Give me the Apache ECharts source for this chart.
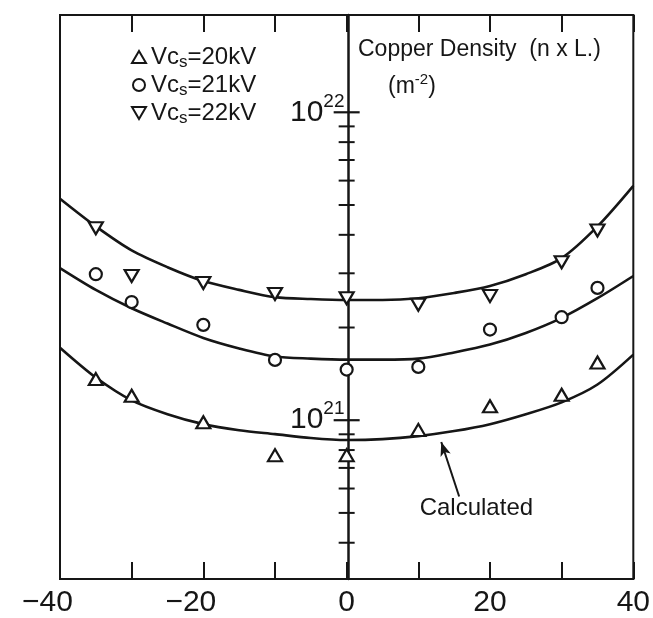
<!DOCTYPE html>
<html>
<head>
<meta charset="utf-8">
<script src="https://cdn.jsdelivr.net/npm/echarts@6/dist/echarts.min.js"></script>
<style>
  html, body { margin: 0; padding: 0; background: #ffffff; }
  #chart { width: 653px; height: 618px; }
</style>
</head>
<body>
<div id="chart"></div>
<script>
// Axial position (mm) of the measured points
const positions = [-35, -30, -20, -10, 0, 10, 20, 30, 35];

// Measured copper density n x L (m^-2)
const density20kV = [1.36e21, 1.20e21, 0.985e21, 0.77e21, 0.77e21, 0.93e21, 1.11e21, 1.21e21, 1.54e21];
const density21kV = [2.98e21, 2.42e21, 2.04e21, 1.57e21, 1.46e21, 1.49e21, 1.97e21, 2.16e21, 2.69e21];
const density22kV = [4.20e21, 2.94e21, 2.79e21, 2.57e21, 2.49e21, 2.37e21, 2.53e21, 3.26e21, 4.13e21];

// Calculated profiles, read every 5 mm
const calcPositions = [-40, -35, -30, -25, -20, -15, -10, -5, 0, 5, 10, 15, 20, 25, 30, 35, 40];
const calc20kV = [1.72e21, 1.376e21, 1.16e21, 1.046e21, 0.971e21, 0.928e21, 0.901e21, 0.875e21, 0.862e21,
                  0.868e21, 0.888e21, 0.922e21, 0.971e21, 1.046e21, 1.143e21, 1.306e21, 1.633e21];
const calc21kV = [3.12e21, 2.65e21, 2.31e21, 2.06e21, 1.85e21, 1.71e21, 1.61e21, 1.585e21, 1.573e21,
                  1.573e21, 1.585e21, 1.66e21, 1.76e21, 1.92e21, 2.15e21, 2.49e21, 2.94e21];
const calc22kV = [5.24e21, 4.26e21, 3.56e21, 3.14e21, 2.83e21, 2.65e21, 2.51e21, 2.475e21, 2.457e21,
                  2.457e21, 2.49e21, 2.59e21, 2.73e21, 2.98e21, 3.36e21, 4.26e21, 5.77e21];

// Tick marks on the central log axis
const majorTicks = [1e21, 1e22];
const minorTicks = [4e20, 5e20, 6e20, 7e20, 8e20, 9e20, 2e21, 3e21, 4e21, 5e21, 6e21, 7e21, 8e21, 9e21];

// Arrow pointing to the calculated curve, and its caption
const arrowFrom = [15.7, 5.65e20];
const arrowTo = [13.2, 8.5e20];
const captionAt = [18.1, 5.16e20];
const captionText = 'Calculated';

const seriesNames = ['Vcs=20kV', 'Vcs=21kV', 'Vcs=22kV'];

const INK = '#161616';
const FONT = 'Liberation Sans';

const GRID = { left: 60, right: 16, top: 15, bottom: 35 };
const PLOT_W = 653 - GRID.left - GRID.right;

const zip = (xs, ys) => xs.map((x, i) => [x, ys[i]]);

const chart = echarts.init(document.getElementById('chart'), null, { renderer: 'canvas' });

const markerStyle = { color: '#ffffff', borderColor: INK, borderWidth: 2.2, opacity: 1 };

const curve = (data) => ({
  type: 'line',
  data: zip(calcPositions, data),
  smooth: 0.3,
  showSymbol: false,
  silent: true,
  lineStyle: { color: INK, width: 2.6 },
  z: 3
});

const isPow10 = (v) => Math.abs(Math.log10(v) - Math.round(Math.log10(v))) < 1e-6;

chart.setOption({
  animation: false,
  backgroundColor: '#ffffff',
  textStyle: { fontFamily: FONT },
  grid: Object.assign({
    show: true, borderColor: INK, borderWidth: 2, backgroundColor: 'transparent'
  }, GRID),
  title: [
    {
      text: 'Copper Density  (n x L.)',
      left: 358, top: 38, padding: 0,
      textStyle: { fontFamily: FONT, fontSize: 23, fontWeight: 'normal', color: INK }
    },
    {
      text: '(m{sup|-2})',
      left: 388, top: 72, padding: 0,
      textStyle: {
        fontFamily: FONT, fontSize: 23, fontWeight: 'normal', color: INK,
        rich: { sup: { fontFamily: FONT, fontSize: 15, color: INK, padding: [0, 0, 14, 0] } }
      }
    }
  ],
  legend: {
    data: [
      { name: seriesNames[0], icon: 'triangle' },
      { name: seriesNames[1], icon: 'circle' },
      { name: seriesNames[2], icon: 'path://M0,0 L14,0 L7,12 Z' }
    ],
    orient: 'vertical',
    left: 131, top: 43,
    itemWidth: 14, itemHeight: 12,
    itemGap: 0,
    padding: 0,
    selectedMode: false,
    formatter: (name) => 'Vc{sub|s}=' + name.split('=')[1],
    textStyle: {
      fontFamily: FONT, fontSize: 24, color: INK, lineHeight: 28,
      rich: { sub: { fontFamily: FONT, fontSize: 17, color: INK, padding: [10, 0, 0, 0] } }
    }
  },
  xAxis: [
    {
      type: 'value', position: 'bottom', min: -40, max: 40, interval: 10,
      axisLine: { onZero: false, lineStyle: { color: INK, width: 2 } },
      axisTick: { inside: true, length: 17, lineStyle: { color: INK, width: 2 } },
      splitLine: { show: false },
      axisLabel: {
        margin: 9, color: INK, fontFamily: FONT, fontSize: 30,
        formatter: (v) => {
          if (v % 20 !== 0) return '';
          if (v < 0) return '\u2212' + Math.abs(v) + '{sp| }';
          return String(v);
        },
        rich: { sp: { width: 25, fontSize: 30 } }
      }
    },
    {
      type: 'value', position: 'top', min: -40, max: 40, interval: 10,
      axisLine: { onZero: false, lineStyle: { color: INK, width: 2 } },
      axisTick: { inside: true, length: 17, lineStyle: { color: INK, width: 2 } },
      splitLine: { show: false },
      axisLabel: { show: false }
    }
  ],
  yAxis: {
    type: 'log', logBase: 10, min: 3.05e20, max: 2.07e22,
    position: 'left',
    // the density axis stands at x = 0, the middle of the plot
    offset: -PLOT_W / 2,
    axisLine: { onZero: false, lineStyle: { color: INK, width: 2.5 } },
    axisTick: { show: false },
    splitLine: { show: false },
    axisLabel: {
      margin: 4, color: INK, fontFamily: FONT, fontSize: 30,
      formatter: (v) => isPow10(v) ? '10{sup|' + Math.round(Math.log10(v)) + '}' : '',
      rich: { sup: { fontFamily: FONT, fontSize: 19, color: INK, padding: [0, 0, 22, 0] } }
    }
  },
  series: [
    curve(calc20kV),
    curve(calc21kV),
    curve(calc22kV),
    {
      type: 'scatter', silent: true, z: 4,
      symbol: 'rect', symbolSize: [26, 2.2],
      itemStyle: { color: INK, opacity: 1 },
      data: majorTicks.map((v) => [0, v])
    },
    {
      type: 'scatter', silent: true, z: 4,
      symbol: 'rect', symbolSize: [16, 2],
      itemStyle: { color: INK, opacity: 1 },
      data: minorTicks.map((v) => [0, v])
    },
    {
      name: seriesNames[0], type: 'scatter', z: 6,
      symbol: 'triangle', symbolSize: [14, 12],
      itemStyle: markerStyle,
      data: zip(positions, density20kV)
    },
    {
      name: seriesNames[1], type: 'scatter', z: 6,
      symbol: 'circle', symbolSize: 12,
      itemStyle: markerStyle,
      data: zip(positions, density21kV)
    },
    {
      name: seriesNames[2], type: 'scatter', z: 6,
      symbol: 'triangle', symbolRotate: 180, symbolSize: [14, 12],
      itemStyle: markerStyle,
      data: zip(positions, density22kV)
    },
    {
      type: 'line', data: [], silent: true,
      markLine: {
        silent: true, animation: false,
        symbol: ['none', 'arrow'], symbolSize: [8, 14],
        lineStyle: { color: INK, width: 2, type: 'solid' },
        label: { show: false },
        data: [[{ coord: arrowFrom }, { coord: arrowTo }]]
      },
      markPoint: {
        silent: true, animation: false,
        symbol: 'circle', symbolSize: 0,
        label: {
          show: true, position: 'inside', formatter: captionText,
          color: INK, fontFamily: FONT, fontSize: 24
        },
        data: [{ coord: captionAt }]
      }
    }
  ]
});
</script>
</body>
</html>
